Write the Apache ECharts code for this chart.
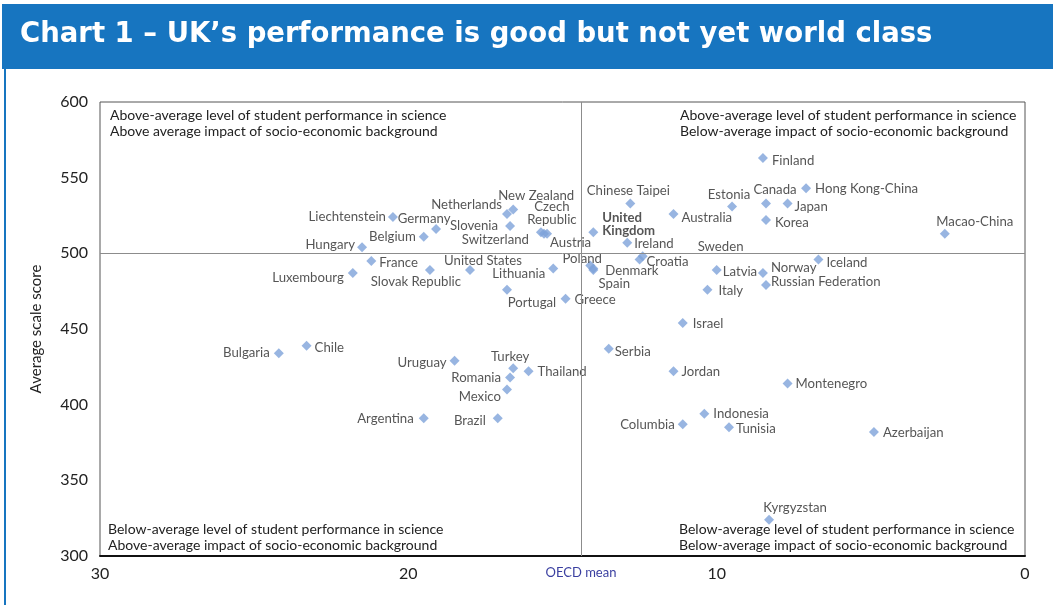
<!DOCTYPE html>
<html>
<head>
<meta charset="utf-8">
<title>Chart 1</title>
<script src="https://cdn.jsdelivr.net/npm/echarts@6/dist/echarts.min.js"></script>
<style>
html, body { margin: 0; padding: 0; background: #fff; }
#main { width: 1053px; height: 605px; }
</style>
</head>
<body>
<div id="main"></div>
<script>
// impact of socio-economic background (%), science score
var countries = ['Finland', 'Hong Kong-China', 'Canada', 'Japan', 'Estonia', 'Korea', 'Australia', 'Macao-China',
    'Iceland', 'Latvia', 'Norway', 'Russian Federation', 'Italy', 'Sweden', 'Chinese Taipei', 'New Zealand',
    'Netherlands', 'Slovenia', 'Germany', 'Liechtenstein', 'Belgium', 'Hungary', 'France', 'Luxembourg',
    'Slovak Republic', 'United States', 'Lithuania', 'Poland', 'Czech Republic', 'Switzerland', 'Austria',
    'United Kingdom', 'Ireland', 'Croatia', 'Denmark', 'Spain', 'Portugal', 'Greece', 'Bulgaria', 'Chile',
    'Uruguay', 'Turkey', 'Romania', 'Thailand', 'Mexico', 'Argentina', 'Brazil', 'Serbia', 'Israel', 'Jordan',
    'Montenegro', 'Indonesia', 'Columbia', 'Tunisia', 'Azerbaijan', 'Kyrgyzstan'];
var impact = [8.5, 7.1, 8.4, 7.7, 9.5, 8.4, 11.4, 2.6,
    6.7, 10.0, 8.5, 8.4, 10.3, 12.4, 12.8, 16.6,
    16.8, 16.7, 19.1, 20.5, 19.5, 21.5, 21.2, 21.8,
    19.3, 18.0, 15.3, 14.1, 15.7, 15.6, 15.5,
    14.0, 12.9, 12.5, 14.0, 14.0, 16.8, 14.9, 24.2, 23.3,
    18.5, 16.6, 16.7, 16.1, 16.8, 19.5, 17.1, 13.5, 11.1, 11.4,
    7.7, 10.4, 11.1, 9.6, 4.9, 8.3];
var score = [563, 543, 533, 533, 531, 522, 526, 513,
    496, 489, 487, 479, 476, 498, 533, 529,
    526, 518, 516, 524, 511, 504, 495, 487,
    489, 489, 490, 492, 514, 513, 513,
    514, 507, 496, 490, 489, 476, 470, 434, 439,
    429, 424, 418, 422, 410, 391, 391, 437, 454, 422,
    414, 394, 387, 385, 382, 324];
var oecdImpact = 14.4;
var oecdScore = 500;
var xTicks = [0, 10, 20, 30];
var yTicks = [300, 350, 400, 450, 500, 550, 600];

// label placement: [position, dx, dy]
var labelPlace = {
    'Finland': ['right', 2, 3], 'Hong Kong-China': ['right', 2, 0], 'Canada': ['top', 9, 0],
    'Japan': ['right', 0, 3], 'Estonia': ['top', -3, 2], 'Korea': ['right', 2, 3],
    'Australia': ['right', 1, 4], 'Macao-China': ['top', 30, 2], 'Iceland': ['right', 1, 3],
    'Latvia': ['right', -1, 2], 'Norway': ['right', 1, -5], 'Russian Federation': ['right', -2, -3],
    'Italy': ['right', 4, 1], 'Sweden': ['right', 48, -10], 'Chinese Taipei': ['top', -2, 1],
    'New Zealand': ['top', 23, 0], 'Netherlands': ['left', 2, -9], 'Slovenia': ['left', -5, 0],
    'Germany': ['top', -12, 3], 'Liechtenstein': ['left', 0, 0], 'Belgium': ['left', -1, 0],
    'Hungary': ['left', 0, -3], 'France': ['right', 1, 2], 'Luxembourg': ['left', -2, 5],
    'Slovak Republic': ['bottom', -14, -2], 'United States': ['top', 13, 4], 'Lithuania': ['left', -1, 5],
    'Poland': ['top', -8, 7], 'Czech Republic': ['top', 11, 1], 'Switzerland': ['left', -8, 6],
    'Austria': ['right', -4, 9], 'United Kingdom': ['right', 2, -8], 'Ireland': ['right', 0, 1],
    'Croatia': ['right', 0, 2], 'Denmark': ['right', 5, 2], 'Spain': ['bottom', 21, 0],
    'Portugal': ['bottom', 25, 0], 'Greece': ['right', 2, 1], 'Bulgaria': ['left', -2, 0],
    'Chile': ['right', 1, 2], 'Uruguay': ['left', -1, 2], 'Turkey': ['top', -3, 2],
    'Romania': ['left', -2, 0], 'Thailand': ['right', 2, 0], 'Mexico': ['left', 1, 7],
    'Argentina': ['left', -3, 0], 'Brazil': ['left', -5, 2], 'Serbia': ['right', -1, 3],
    'Israel': ['right', 3, 1], 'Jordan': ['right', 1, 0], 'Montenegro': ['right', 1, 0],
    'Indonesia': ['right', 2, 0], 'Columbia': ['left', -1, 0], 'Tunisia': ['right', 0, 1],
    'Azerbaijan': ['right', 2, 1], 'Kyrgyzstan': ['top', 26, 2]
};
var displayName = { 'Czech Republic': 'Czech\nRepublic', 'United Kingdom': 'United\nKingdom' };

var blue = '#1775c0';
var fontFamily = 'Lato, "Open Sans", sans-serif';

var points = [];
for (var i = 0; i < countries.length; i++) {
    var p = labelPlace[countries[i]] || ['right', 0, 0];
    points.push({
        name: countries[i],
        value: [impact[i], score[i]],
        label: {
            position: p[0],
            offset: [p[1], p[2]],
            formatter: displayName[countries[i]] || countries[i],
            fontWeight: countries[i] === 'United Kingdom' ? 'bold' : 'normal'
        }
    });
}

var chart = echarts.init(document.getElementById('main'));
var quadText = {
    fontSize: 14,
    fontFamily: fontFamily,
    fill: '#222',
    lineHeight: 16
};
function quad(x, y, text) {
    return { type: 'text', left: x, top: y, style: Object.assign({ text: text }, quadText), silent: true };
}

var option = {
    animation: false,
    backgroundColor: '#fff',
    graphic: [
        { type: 'rect', shape: { x: 2, y: 4, width: 1051, height: 65 }, style: { fill: blue }, silent: true },
        { type: 'rect', shape: { x: 4, y: 69, width: 2, height: 536 }, style: { fill: blue }, silent: true },
        {
            type: 'text', left: 20, top: 21, silent: true,
            style: {
                text: 'Chart 1 – UK’s performance is good but not yet world class',
                fill: '#fff', fontSize: 27.5, fontWeight: 'bold',
                fontFamily: '"DejaVu Sans", sans-serif'
            }
        },
        quad(110, 107, 'Above-average level of student performance in science\nAbove average impact of socio-economic background'),
        quad(680, 107, 'Above-average level of student performance in science\nBelow-average impact of socio-economic background'),
        quad(108, 521, 'Below-average level of student performance in science\nAbove-average impact of socio-economic background'),
        quad(679, 521, 'Below-average level of student performance in science\nBelow-average impact of socio-economic background')
    ],
    grid: {
        left: 100, right: 28, top: 102, bottom: 49,
        show: true, borderColor: '#555', borderWidth: 1
    },
    xAxis: {
        type: 'value',
        inverse: true,
        min: xTicks[0], max: xTicks[xTicks.length - 1], interval: 10,
        axisLine: { show: true, onZero: false, lineStyle: { color: '#111', width: 2 } },
        axisTick: { show: false },
        splitLine: { show: false },
        axisLabel: { fontSize: 16, color: '#222', margin: 10, fontFamily: fontFamily }
    },
    yAxis: {
        type: 'value',
        min: yTicks[0], max: yTicks[yTicks.length - 1], interval: 50,
        name: 'Average scale score',
        nameLocation: 'middle',
        nameGap: 56,
        nameTextStyle: { fontSize: 15, color: '#222', fontFamily: fontFamily },
        axisLine: { show: false },
        axisTick: { show: false },
        splitLine: { show: false },
        axisLabel: { fontSize: 16, color: '#222', margin: 12, fontFamily: fontFamily }
    },
    series: [{
        type: 'scatter',
        symbol: 'diamond',
        symbolSize: 10,
        itemStyle: { color: '#7ea3d9' },
        label: {
            show: true,
            distance: 2,
            fontSize: 13.2,
            lineHeight: 13,
            color: '#2b2b2b',
            fontFamily: fontFamily
        },
        data: points,
        markLine: {
            silent: true,
            symbol: 'none',
            lineStyle: { color: '#8c8c8c', width: 1, type: 'solid' },
            data: [
                {
                    xAxis: oecdImpact,
                    label: {
                        show: true, formatter: 'OECD mean', position: 'start', distance: 10,
                        color: '#3a3fa0', fontSize: 13, fontFamily: fontFamily
                    }
                },
                { yAxis: oecdScore, label: { show: false } }
            ]
        }
    }]
};
chart.setOption(option);
</script>
</body>
</html>
